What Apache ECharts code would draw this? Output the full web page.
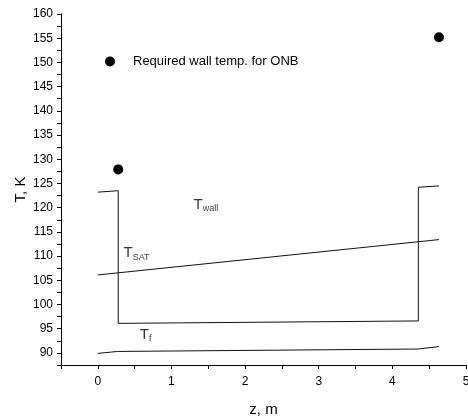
<!DOCTYPE html>
<html>
<head>
<meta charset="utf-8">
<script src="https://cdn.jsdelivr.net/npm/echarts@6/dist/echarts.min.js"></script>
<style>
    html, body { margin: 0; padding: 0; background: #fff; }
    #chart { width: 468px; height: 419px; }
</style>
</head>
<body>
<div id="chart"></div>
<script>
// 壁温、饱和温度、流体温度 (z, T)
const wallTemp = [[0, 123.2], [0.277, 123.5], [0.277, 96.1], [4.353, 96.6], [4.353, 124.2], [4.633, 124.5]];
const satTemp = [[0, 106.1], [4.633, 113.4]];
const fluidTemp = [[0, 89.9], [0.27, 90.3], [4.35, 90.8], [4.633, 91.3]];
// ONB所需壁温
const onbTemp = [[0.277, 127.9], [4.633, 155.2]];
// 曲线标注 (位置, 主文字, 下标)
const curveLabels = [
    [1.30, 120.5, 'T', 'wall'],
    [0.35, 110.5, 'T', 'SAT'],
    [0.57, 93.6, 'T', 'f']
];

const FONT = 'Liberation Sans, Arial, sans-serif';

let chart = echarts.init(document.querySelector('#chart'), null, { renderer: 'canvas' });

// 公共坐标轴设置
function axisCommon() {
    return {
        type: 'value',
        axisLine: { show: true, onZero: false, lineStyle: { color: '#000', width: 1 } },
        axisTick: { show: true, inside: false, length: 4, lineStyle: { color: '#000' } },
        splitLine: { show: false },
        nameMoveOverlap: false,
        nameTextStyle: { fontFamily: FONT, fontSize: 15, color: '#000' }
    };
}

let xAxis = axisCommon();
xAxis.min = -0.5;
xAxis.max = 5;
xAxis.interval = 0.5;
xAxis.name = 'z, m';
xAxis.nameLocation = 'middle';
xAxis.nameGap = 37;
xAxis.axisLabel = {
    fontFamily: FONT, fontSize: 12, color: '#000', margin: 11,
    showMinLabel: true, showMaxLabel: true,
    // 只显示整数标签
    formatter: function (v) {
        return Math.abs(v - Math.round(v)) < 1e-6 ? String(Math.round(v)) : '';
    }
};

let yAxis = axisCommon();
yAxis.min = 87.5;
yAxis.max = 160;
yAxis.interval = 2.5;
yAxis.name = 'T, K';
yAxis.nameLocation = 'middle';
yAxis.nameGap = 33;
yAxis.axisLabel = {
    fontFamily: FONT, fontSize: 12, color: '#000', margin: 8,
    // 只显示5的倍数
    formatter: function (v) {
        return Math.abs(v / 5 - Math.round(v / 5)) < 1e-6 ? String(v) : '';
    }
};

function lineSeries(name, data) {
    return {
        name: name,
        type: 'line',
        data: data,
        showSymbol: false,
        symbol: 'none',
        lineStyle: { color: '#111', width: 1 },
        silent: true,
        animation: false
    };
}

let option = {
    animation: false,
    grid: { left: 61, right: 2, top: 14, bottom: 54, containLabel: false, outerBoundsMode: 'none' },
    legend: {
        data: ['Required wall temp. for ONB'],
        left: 100,
        top: 50,
        itemWidth: 10,
        itemHeight: 10,
        icon: 'circle',
        itemStyle: { color: '#000', opacity: 1 },
        textStyle: { fontFamily: FONT, fontSize: 13, color: '#000', padding: [0, 0, 0, 13] }
    },
    xAxis: xAxis,
    yAxis: yAxis,
    series: [
        lineSeries('wall', wallTemp),
        lineSeries('sat', satTemp),
        lineSeries('fluid', fluidTemp),
        {
            name: 'Required wall temp. for ONB',
            type: 'scatter',
            data: onbTemp,
            symbol: 'circle',
            symbolSize: 10,
            itemStyle: { color: '#000', opacity: 1 }
        },
        {
            name: 'labels',
            type: 'scatter',
            symbolSize: 0,
            silent: true,
            data: curveLabels.map(function (r) {
                return {
                    value: [r[0], r[1]],
                    label: {
                        show: true,
                        position: 'right',
                        distance: 0,
                        formatter: '{a|' + r[2] + '}{b|' + r[3] + '}',
                        lineHeight: 22,
                        rich: {
                            a: { fontFamily: FONT, fontSize: 15, color: '#000', verticalAlign: 'top', lineHeight: 16 },
                            b: { fontFamily: FONT, fontSize: 9, color: '#000', verticalAlign: 'bottom', lineHeight: 10 }
                        }
                    }
                };
            })
        }
    ]
};

chart.setOption(option);
</script>
</body>
</html>
